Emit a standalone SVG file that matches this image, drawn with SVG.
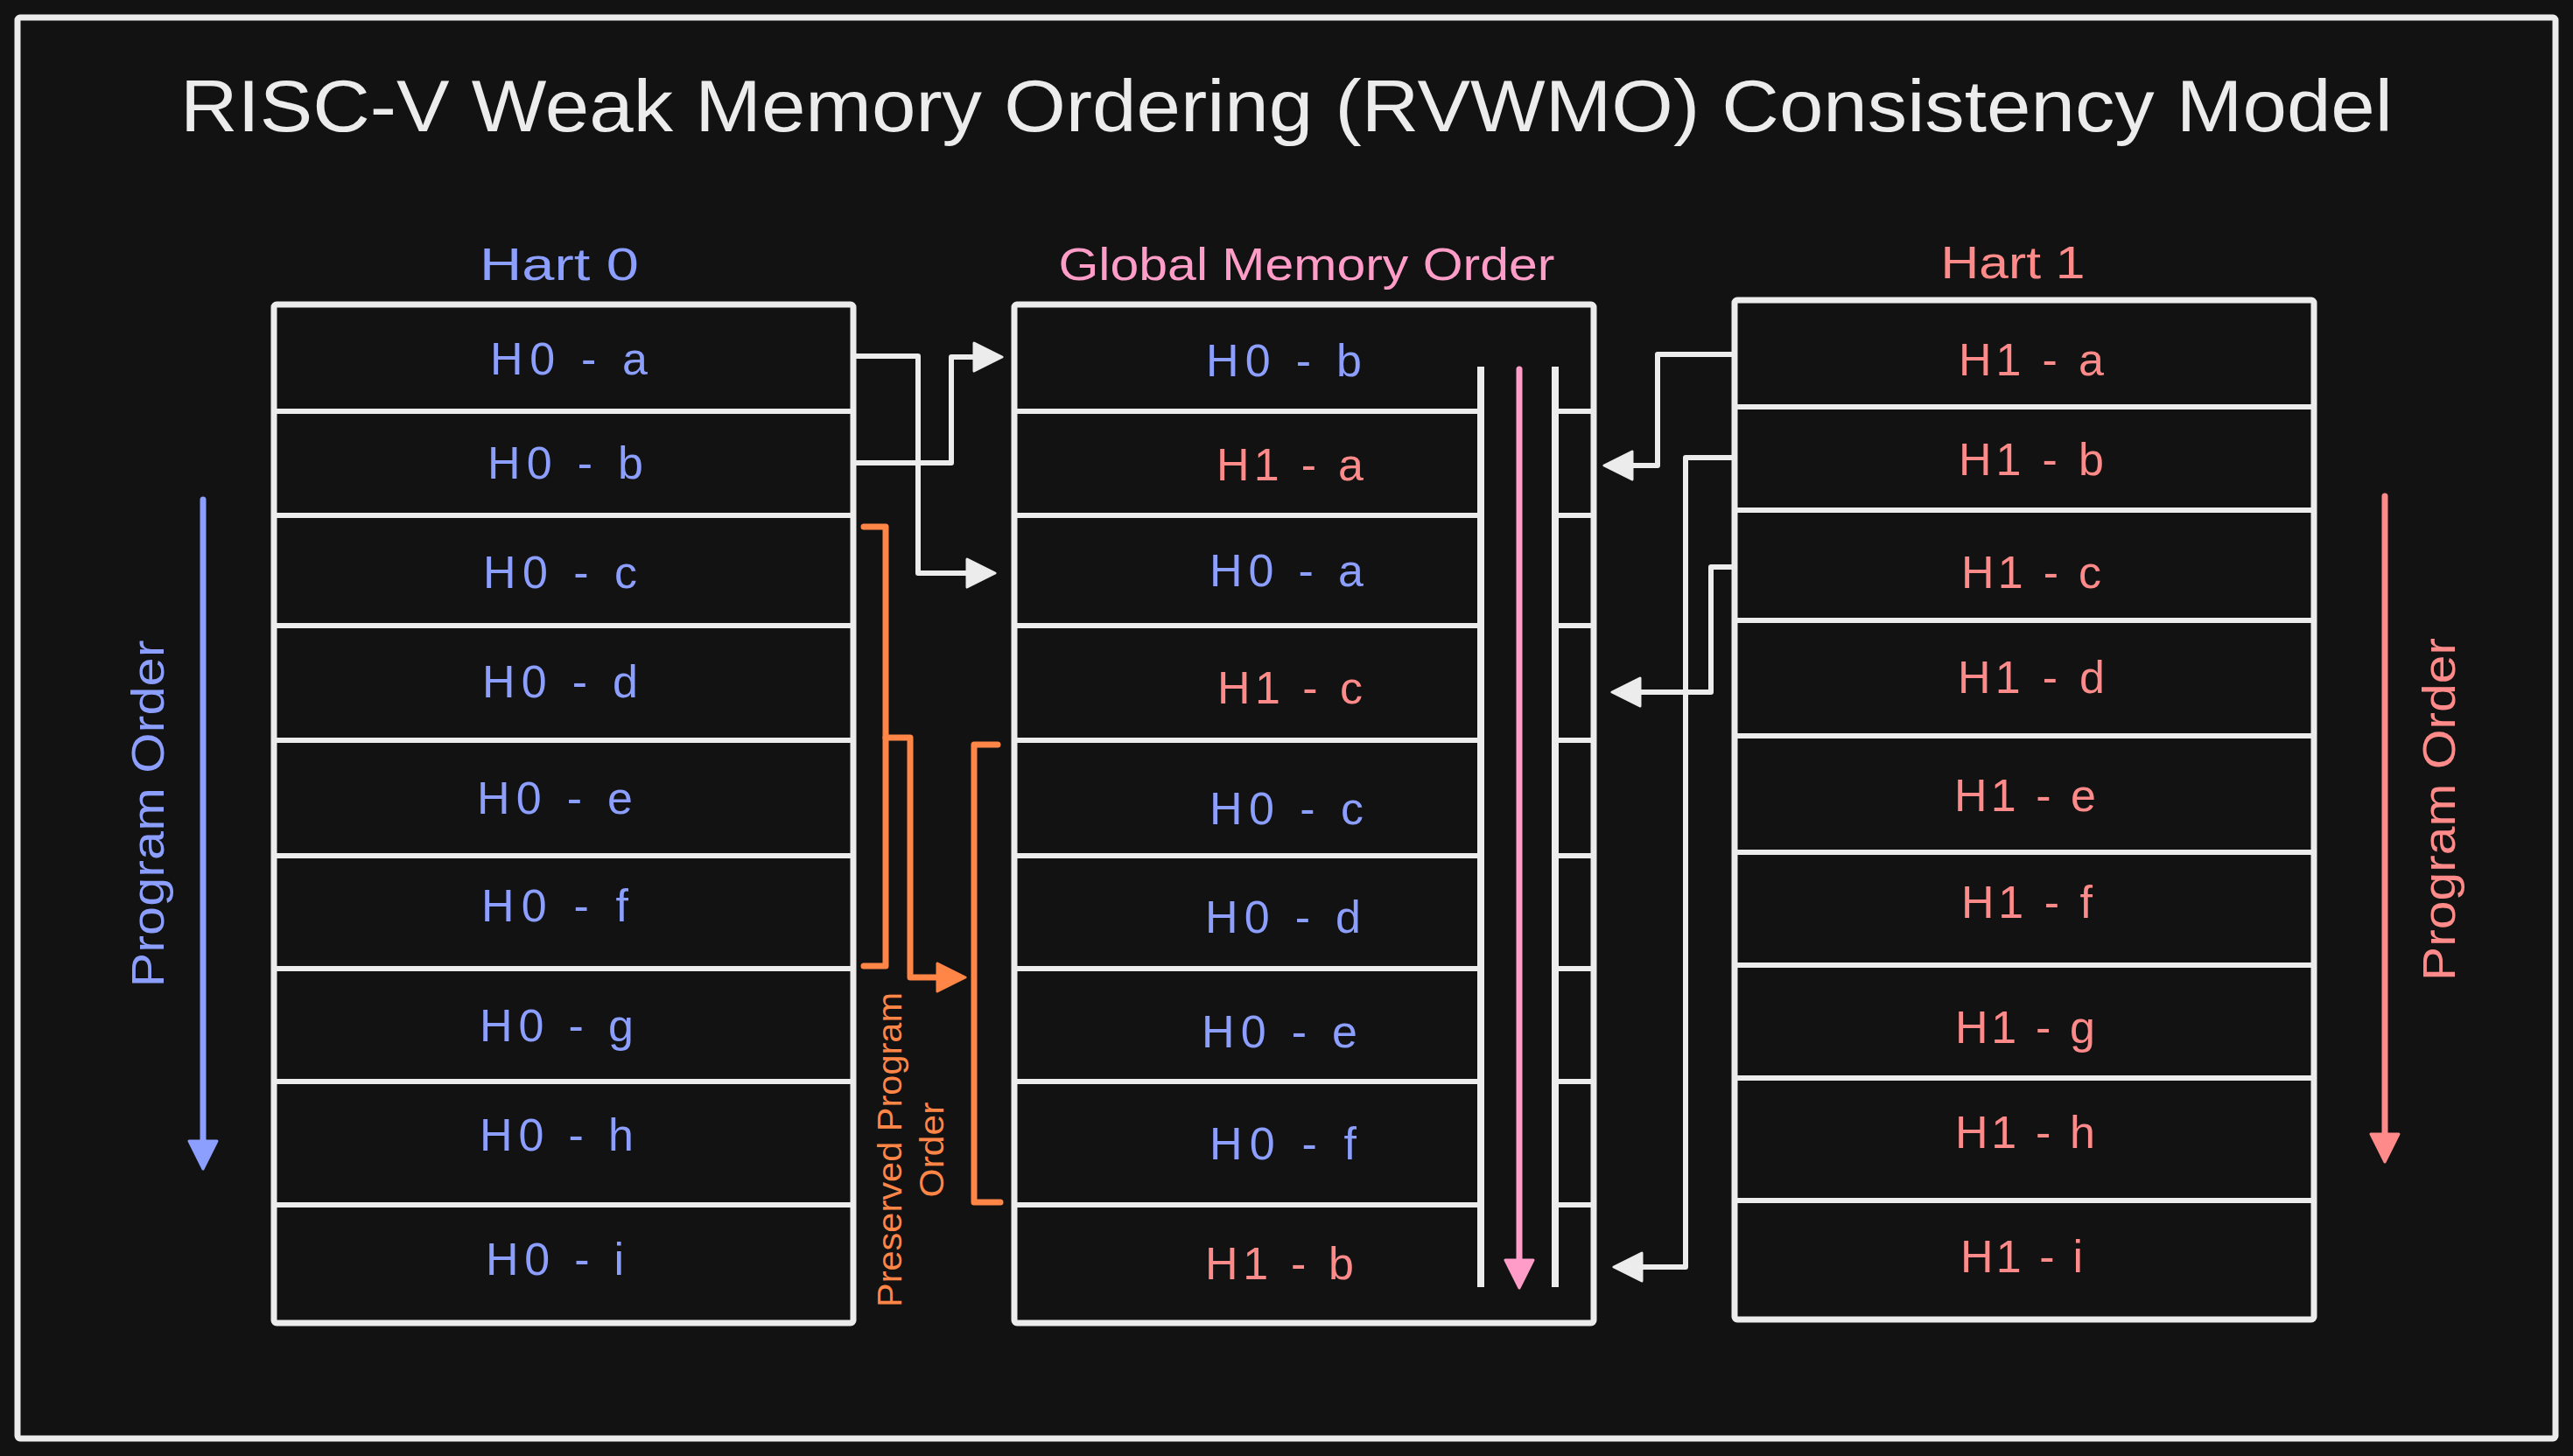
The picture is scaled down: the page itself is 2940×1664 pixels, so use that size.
<svg xmlns="http://www.w3.org/2000/svg" width="2940" height="1664" viewBox="0 0 2940 1664">
<style>
.bg{fill:#121212}
.frame{fill:none;stroke:#ececec;stroke-width:7;stroke-linejoin:round}
.col{fill:#121212;stroke:#ececec;stroke-width:7;stroke-linejoin:round}
.div{stroke:#ececec;stroke-width:6;fill:none}
.inner{stroke:#ececec;stroke-width:8;fill:none}
.conn{fill:none;stroke:#ececec;stroke-width:6;stroke-linejoin:round}
.orange{fill:none;stroke:#ff8646;stroke-width:7;stroke-linejoin:round;stroke-linecap:round}
.t{font-family:"Liberation Sans","Noto Sans",Arial,sans-serif;text-anchor:middle}
.title{font-size:84px;fill:#ececec}
.lbl{font-size:52px}
.blue{fill:#8c9fff}
.red{fill:#ff8a8a}
.pinkt{fill:#ff9dc8}
.orat{fill:#ff8646}
</style>
<defs>
<marker id="aw" markerUnits="userSpaceOnUse" markerWidth="36" markerHeight="36" viewBox="0 0 36 36" refX="24" refY="18" orient="auto">
<path d="M2,2 L34,18 L2,34 z" fill="#ececec" stroke="#ececec" stroke-width="3" stroke-linejoin="round"/>
</marker>
<marker id="ao" markerUnits="userSpaceOnUse" markerWidth="36" markerHeight="36" viewBox="0 0 36 36" refX="24" refY="18" orient="auto">
<path d="M2,2 L34,18 L2,34 z" fill="#ff8646" stroke="#ff8646" stroke-width="3" stroke-linejoin="round"/>
</marker>
<marker id="ab" markerUnits="userSpaceOnUse" markerWidth="36" markerHeight="36" viewBox="0 0 36 36" refX="24" refY="18" orient="auto">
<path d="M2,2 L34,18 L2,34 z" fill="#8c9fff" stroke="#8c9fff" stroke-width="3" stroke-linejoin="round"/>
</marker>
<marker id="ar" markerUnits="userSpaceOnUse" markerWidth="36" markerHeight="36" viewBox="0 0 36 36" refX="24" refY="18" orient="auto">
<path d="M2,2 L34,18 L2,34 z" fill="#ff8a8a" stroke="#ff8a8a" stroke-width="3" stroke-linejoin="round"/>
</marker>
<marker id="ap" markerUnits="userSpaceOnUse" markerWidth="36" markerHeight="36" viewBox="0 0 36 36" refX="24" refY="18" orient="auto">
<path d="M2,2 L34,18 L2,34 z" fill="#ff9dc8" stroke="#ff9dc8" stroke-width="3" stroke-linejoin="round"/>
</marker>
</defs>
<rect class="bg" x="0" y="0" width="2940" height="1664"/>
<rect class="frame" x="20" y="20" width="2900" height="1624" rx="3"/>
<text id="title" class="t title" x="1470" y="150" textLength="2528" lengthAdjust="spacingAndGlyphs">RISC-V Weak Memory Ordering (RVWMO) Consistency Model</text>

<g id="hart0">
<text class="t lbl blue" x="639" y="320" textLength="182" lengthAdjust="spacingAndGlyphs">Hart 0</text>
<rect class="col" x="313" y="348" width="662" height="1164" rx="3"/>
<path class="div" d="M313,470H975M313,589H975M313,715H975M313,846H975M313,978H975M313,1107H975M313,1236H975M313,1377H975"/>
<g class="t lbl blue">
<text x="650" y="428" textLength="180" lengthAdjust="spacing">H0 - a</text>
<text x="646" y="547" textLength="178" lengthAdjust="spacing">H0 - b</text>
<text x="640" y="672" textLength="176" lengthAdjust="spacing">H0 - c</text>
<text x="640" y="797" textLength="178" lengthAdjust="spacing">H0 - d</text>
<text x="634" y="930" textLength="178" lengthAdjust="spacing">H0 - e</text>
<text x="634" y="1053" textLength="168" lengthAdjust="spacing">H0 - f</text>
<text x="636" y="1190" textLength="176" lengthAdjust="spacing">H0 - g</text>
<text x="636" y="1315" textLength="176" lengthAdjust="spacing">H0 - h</text>
<text x="634" y="1457" textLength="158" lengthAdjust="spacing">H0 - i</text>
</g>
</g>

<g id="global">
<text class="t lbl pinkt" x="1493" y="320" textLength="567" lengthAdjust="spacingAndGlyphs">Global Memory Order</text>
<rect class="col" x="1159" y="348" width="662" height="1164" rx="3"/>
<path class="div" d="M1159,470H1692M1159,589H1692M1159,715H1692M1159,846H1692M1159,978H1692M1159,1107H1692M1159,1236H1692M1159,1377H1692"/>
<path class="div" d="M1777,470H1821M1777,589H1821M1777,715H1821M1777,846H1821M1777,978H1821M1777,1107H1821M1777,1236H1821M1777,1377H1821"/>
<path class="inner" d="M1692,419V1471M1777,419V1471"/>
<path d="M1736,422V1462" fill="none" stroke="#ff9dc8" stroke-width="7" stroke-linecap="round" marker-end="url(#ap)"/>
<g class="t lbl">
<text class="blue" x="1467" y="430" textLength="178" lengthAdjust="spacing">H0 - b</text>
<text class="red" x="1474" y="549" textLength="168" lengthAdjust="spacing">H1 - a</text>
<text class="blue" x="1470" y="670" textLength="176" lengthAdjust="spacing">H0 - a</text>
<text class="red" x="1474" y="804" textLength="166" lengthAdjust="spacing">H1 - c</text>
<text class="blue" x="1470" y="942" textLength="176" lengthAdjust="spacing">H0 - c</text>
<text class="blue" x="1466" y="1066" textLength="178" lengthAdjust="spacing">H0 - d</text>
<text class="blue" x="1462" y="1197" textLength="178" lengthAdjust="spacing">H0 - e</text>
<text class="blue" x="1466" y="1325" textLength="168" lengthAdjust="spacing">H0 - f</text>
<text class="red" x="1462" y="1462" textLength="170" lengthAdjust="spacing">H1 - b</text>
</g>
</g>

<g id="hart1">
<text class="t lbl red" x="2300" y="318" textLength="165" lengthAdjust="spacingAndGlyphs">Hart 1</text>
<rect class="col" x="1982" y="343" width="662" height="1165" rx="3"/>
<path class="div" d="M1982,465H2644M1982,583H2644M1982,709H2644M1982,841H2644M1982,974H2644M1982,1103H2644M1982,1232H2644M1982,1372H2644"/>
<g class="t lbl red">
<text x="2321" y="429" textLength="166" lengthAdjust="spacing">H1 - a</text>
<text x="2321" y="543" textLength="166" lengthAdjust="spacing">H1 - b</text>
<text x="2321" y="672" textLength="160" lengthAdjust="spacing">H1 - c</text>
<text x="2321" y="792" textLength="168" lengthAdjust="spacing">H1 - d</text>
<text x="2314" y="927" textLength="162" lengthAdjust="spacing">H1 - e</text>
<text x="2316" y="1049" textLength="150" lengthAdjust="spacing">H1 - f</text>
<text x="2314" y="1192" textLength="160" lengthAdjust="spacing">H1 - g</text>
<text x="2314" y="1312" textLength="160" lengthAdjust="spacing">H1 - h</text>
<text x="2310" y="1454" textLength="140" lengthAdjust="spacing">H1 - i</text>
</g>
</g>

<g id="program-order-0">
<path d="M232,571V1326" fill="none" stroke="#8c9fff" stroke-width="7" stroke-linecap="round" marker-end="url(#ab)"/>
<text class="t lbl blue" transform="translate(187,930) rotate(-90)" x="0" y="0" textLength="397" lengthAdjust="spacingAndGlyphs">Program Order</text>
</g>

<g id="program-order-1">
<path d="M2725,567V1318" fill="none" stroke="#ff8a8a" stroke-width="7" stroke-linecap="round" marker-end="url(#ar)"/>
<text class="t lbl red" transform="translate(2805,925) rotate(-90)" x="0" y="0" textLength="392" lengthAdjust="spacingAndGlyphs">Program Order</text>
</g>

<g id="preserved">
<path class="orange" d="M987,602H1012V1104H987"/>
<path class="orange" d="M1140,851H1113V1374H1143"/>
<g class="t orat" style="font-size:38px">
<text transform="translate(1030,1314) rotate(-90)" textLength="360" lengthAdjust="spacingAndGlyphs">Preserved Program</text>
<text transform="translate(1078,1314) rotate(-90)" textLength="109" lengthAdjust="spacingAndGlyphs">Order</text>
</g>
</g>

<g id="connectors">
<path class="conn" d="M975,407H1049V655H1127" marker-end="url(#aw)"/>
<path class="conn" d="M975,529H1087V408H1135" marker-end="url(#aw)"/>
<path class="conn" d="M1982,405H1894V532H1843" marker-end="url(#aw)"/>
<path class="conn" d="M1982,523H1926V1448H1854" marker-end="url(#aw)"/>
<path class="conn" d="M1982,648H1955V791H1852" marker-end="url(#aw)"/>
<path class="orange" d="M1012,843H1040V1117H1093" marker-end="url(#ao)"/>
</g>
</svg>
